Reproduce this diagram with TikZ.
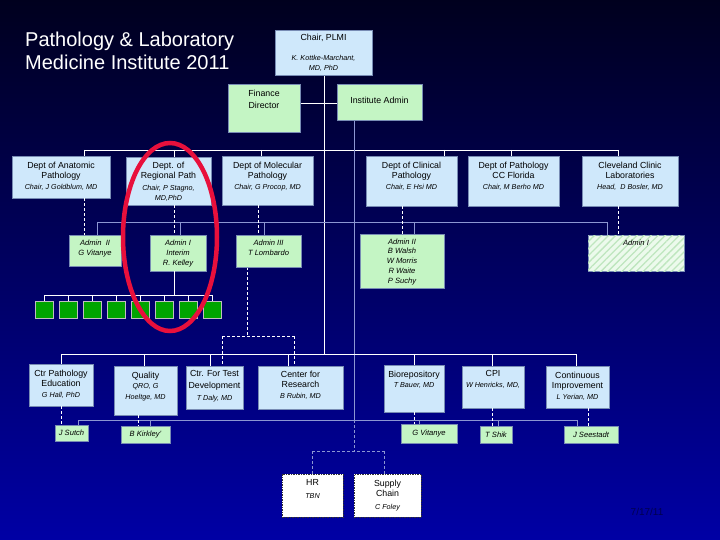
\documentclass[tikz,border=0pt]{standalone}
\usepackage{fontspec}
\setmainfont{Liberation Sans}
\usetikzlibrary{fit,patterns.meta}
\definecolor{lbf}{RGB}{207,232,251}
\definecolor{lgf}{RGB}{196,245,196}
\definecolor{bord}{RGB}{120,140,180}
\definecolor{greyl}{RGB}{140,150,210}
\definecolor{sqg}{RGB}{0,165,0}
\definecolor{redc}{RGB}{232,16,60}
\definecolor{hatchbg}{RGB}{236,250,236}
\definecolor{hatchln}{RGB}{190,230,190}
\definecolor{bgtop}{RGB}{0,0,30}
\definecolor{bgmid}{RGB}{0,0,110}
\definecolor{bgbot}{RGB}{0,0,165}
\definecolor{datec}{RGB}{0,0,80}
\newcommand\bx[6][]{\node[#1, fit={(#3,#4) (#5,#6)}, inner sep=0pt] (#2) {};}
\newcommand\nmi[1]{{\fontsize{7.2}{10.5}\selectfont\itshape #1}}
\begin{document}
\begin{tikzpicture}[x=1pt,y=-1pt,
 box/.style={draw=bord, line width=0.6pt, inner sep=0pt},
 lb/.style={box, fill=lbf},
 lg/.style={box, fill=lgf},
 hatch/.style={box, fill=hatchbg, postaction={pattern={Lines[angle=45,distance=5pt,line width=1.3pt]}, pattern color=hatchln}},
 wb/.style={fill=white, draw=black!80, line width=0.8pt, dash pattern=on 1.5pt off 1pt, inner sep=0pt},
 txt/.style={anchor=north, align=center, inner sep=0pt, text=black, font=\fontsize{8.8}{10.5}\selectfont},
 atxt/.style={txt, font=\fontsize{7.6}{10}\selectfont\itshape},
 ntxt/.style={anchor=center, inner sep=0pt, text=black, font=\fontsize{7.6}{10}\selectfont\itshape},
 wl/.style={white, line width=0.8pt},
 wd/.style={white, line width=0.8pt, dash pattern=on 3pt off 2pt},
 gl/.style={greyl, line width=0.8pt},
 gd/.style={greyl, line width=0.8pt, dash pattern=on 3pt off 2pt},
 sq/.style={draw=black!25, line width=0.5pt, fill=sqg, minimum width=18pt, minimum height=17pt, inner sep=0pt},
]
\useasboundingbox (0,0) rectangle (720,540);
\shade[top color=bgtop, middle color=bgmid, bottom color=bgbot] (0,0) rectangle (720,540);

% title
\node[anchor=north west, align=left, text=white, font=\fontsize{20}{23.5}\selectfont, inner sep=0pt] (title) at (25,31.5) {Pathology \& Laboratory\\Medicine Institute 2011};

% ---------- connectors (drawn first) ----------
% spine
\draw[wl] (324,75) -- (324,354);
% finance - institute admin
\draw[wl] (300,103) -- (337,103);
% department bus
\draw[wl] (84,150) -- (618,150);
\foreach \x in {84,174,261,444,511,618} \draw[wl] (\x,150) -- (\x,157);
% grey admin line
\draw[gl] (354,120) -- (354,420);
\draw[gl] (97,222) -- (607,222);
\foreach \x in {97,180,264,414,607} \draw[gl] (\x,222) -- (\x,235);
% admin III dashed to test dev / research
\draw[wd] (247,267) -- (247,336);
\draw[wd] (222,336) -- (294,336);
\draw[wd] (222,336) -- (222,366);
\draw[wd] (294,336) -- (294,366);
% lower white bus
\draw[wl] (61,354) -- (576,354);
\foreach \x in {61,144,210,288,414,492,576} \draw[wl] (\x,354) -- (\x,366);
% grey lower bus
\draw[gl] (78,420) -- (577,420);
\foreach \x in {78,150,419,498,577} \draw[gl] (\x,420) -- (\x,426);
% grey dashed to HR / supply chain
\draw[gd] (354,420) -- (354,451);
\draw[gd] (312,451) -- (384,451);
\draw[gd] (312,451) -- (312,474);
\draw[gd] (384,451) -- (384,474);

% ---------- top boxes ----------
\bx[lb]{chair}{275}{30}{372}{75}
\node[txt] (chairT) at (chair.north |- 0,34) {Chair, PLMI\\[9pt]\nmi{K. Kottke-Marchant,}\\\nmi{MD, PhD}};
\bx[lg]{fin}{228}{84}{300}{132}
\node[txt] (finT) at (fin.north |- 0,89.5) {Finance\\[1.5pt]Director};
\bx[lg]{iadm}{337}{84}{422}{120}
\node[txt, anchor=center] (iadmT) at (iadm.center |- 0,100) {Institute Admin};

% ---------- departments ----------
\bx[lb]{anat}{12}{156}{110}{198}
\node[txt] (anatT) at (anat.north |- 0,161.5) {Dept of Anatomic\\Pathology\\\nmi{Chair, J Goldblum, MD}};
\bx[lb]{regp}{126}{157}{211}{205}
\node[txt] (regpT) at (regp.north |- 0,161.5) {Dept. of\\Regional Path\\[1pt]\nmi{Chair, P Stagno,}\\\nmi{MD,PhD}};
\bx[lb]{molp}{222}{156}{313}{205}
\node[txt] (molpT) at (molp.north |- 0,161.5) {Dept of Molecular\\Pathology\\\nmi{Chair, G Procop, MD}};
\bx[lb]{clin}{366}{156}{457}{206}
\node[txt] (clinT) at (clin.north |- 0,161.5) {Dept of Clinical\\Pathology\\\nmi{Chair, E Hsi MD}};
\bx[lb]{ccf}{468}{156}{559}{206}
\node[txt] (ccfT) at (ccf.north |- 0,161.5) {Dept of Pathology\\CC Florida\\\nmi{Chair, M Berho MD}};
\bx[lb]{ccl}{582}{156}{678}{206}
\node[txt] (cclT) at (ccl.north |- 0,161.5) {Cleveland Clinic\\Laboratories\\\nmi{Head,\ \ D Bosler, MD}};

% dashed dept -> admin
\draw[wd] (anat.south -| 84,0) -- (84,235);
\draw[wd] (regp.south -| 174,0) -- (174,235);
\draw[wd] (molp.south -| 258,0) -- (258,235);
\draw[wd] (clin.south -| 402,0) -- (402,234);
\draw[wd] (ccl.south -| 618,0) -- (618,235);

% ---------- admin row ----------
\bx[lg]{admA}{69}{235}{121}{266}
\node[atxt] (admAT) at (admA.north |- 0,240) {Admin\ \ II\\G Vitanye};
\bx[lg]{admR}{150}{235}{206}{271}
\node[atxt] (admRT) at (admR.north |- 0,240) {Admin I\\Interim\\R. Kelley};
\bx[lg]{admM}{236}{235}{301}{267}
\node[atxt] (admMT) at (admM.north |- 0,240) {Admin III\\T Lombardo};
\bx[lg]{admC}{360}{234}{444}{288}
\node[atxt, font=\fontsize{7.6}{9.7}\selectfont\itshape] (admCT) at (admC.north |- 0,238.5) {Admin II\\B Walsh\\W Morris\\R Waite\\P Suchy};
\bx[hatch]{admL}{588}{235}{684}{271}
\node[atxt] (admLT) at (admL.north |- 0,240) {Admin I};

% green squares under Regional admin
\draw[wl] (admR.south -| 174,0) -- (174,295);
\draw[wl] (44,295) -- (212,295);
\foreach \i in {0,...,7} {
  \node[sq] (g\i) at (44+24*\i, 309.5) {};
  \draw[wl] (g\i.north |- 0,295) -- (g\i.north);
}

% ---------- bottom row ----------
\bx[lb]{cpe}{29}{364}{93}{406}
\node[txt] (cpeT) at (cpe.north |- 0,369.5) {Ctr Pathology\\Education\\\nmi{G Hall, PhD}};
\bx[lb]{qual}{114}{366}{177}{415}
\node[txt] (qualT) at (qual.north |- 0,371.5) {Quality\\\nmi{QRO, G}\\\nmi{Hoeltge, MD}};
\bx[lb]{ctd}{186}{366}{243}{409}
\node[txt] (ctdT) at (ctd.north |- 0,370.5) {Ctr. For Test\\[1.5pt]Development\\[1.5pt]\nmi{T Daly, MD}};
\bx[lb]{cfr}{258}{366}{343}{409}
\node[txt] (cfrT) at (cfr.north |- 0,370.5) {Center for\\Research\\\nmi{B Rubin, MD}};
\bx[lb]{bio}{384}{365}{444}{412}
\node[txt] (bioT) at (bio.north |- 0,370.5) {Biorepository\\\nmi{T Bauer, MD}};
\bx[lb]{cpi}{462}{366}{524}{408}
\node[txt] (cpiT) at (cpi.north |- 0,370.5) {CPI\\\nmi{W Henricks, MD,}};
\bx[lb]{cimp}{546}{366}{609}{408}
\node[txt] (cimpT) at (cimp.north |- 0,371.5) {Continuous\\Improvement\\\nmi{L Yerian, MD}};

% dashed bottom -> names
\draw[wd] (cpe.south -| 61,0) -- (61,425);
\draw[wd] (qual.south -| 138,0) -- (138,426);
\draw[wd] (bio.south -| 414,0) -- (414,424);
\draw[wd] (cpi.south -| 492,0) -- (492,426);
\draw[wd] (cimp.south -| 588,0) -- (588,426);

% name boxes
\bx[lg]{nSut}{55}{425}{88}{441}
\node[ntxt] (nSutT) at (nSut.center) {J Sutch};
\bx[lg]{nKir}{121}{426}{170}{443}
\node[ntxt] (nKirT) at (nKir.center) {B Kirkley'};
\bx[lg]{nVit}{401}{424}{457}{443}
\node[ntxt] (nVitT) at (nVit.center) {G Vitanye};
\bx[lg]{nShi}{480}{426}{512}{443}
\node[ntxt] (nShiT) at (nShi.center) {T Shik};
\bx[lg]{nSee}{564}{426}{618}{443}
\node[ntxt] (nSeeT) at (nSee.center) {J Seestadt};

% HR / supply chain
\bx[wb]{hr}{282}{474}{343}{517}
\node[txt] (hrT) at (hr.north |- 0,479.5) {HR\\[2pt]\nmi{TBN}};
\bx[wb]{sup}{354}{474}{421}{517}
\node[txt] (supT) at (sup.north |- 0,479.5) {Supply\\Chain\\[2pt]\nmi{C Foley}};

% date
\node[text=datec, font=\fontsize{10}{12}\selectfont, inner sep=0pt] (date) at (647,512) {7/17/11};

% red ellipse
\draw[redc, line width=4.5pt] (170,237) ellipse [x radius=47pt, y radius=94pt];
\end{tikzpicture}
\end{document}
